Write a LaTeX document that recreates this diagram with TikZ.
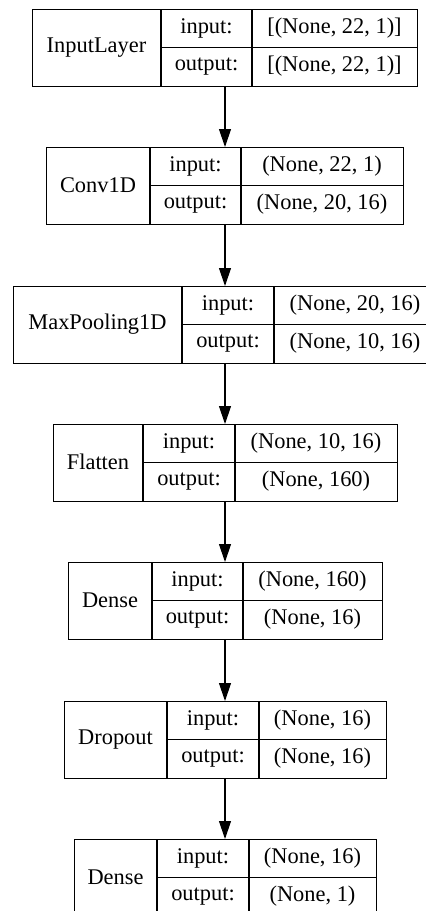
\documentclass[tikz,border=0pt]{standalone}
\usepackage{fontspec}
\setmainfont{Liberation Serif}
\usetikzlibrary{arrows.meta}
\tikzset{
  boxframe/.style={draw, line width=1.2pt, rectangle, inner sep=0pt, anchor=north west},
  cellline/.style={line width=1.2pt},
  celltext/.style={inner sep=0pt, anchor=center, font=\fontsize{22.4}{27}\selectfont},
  arr/.style={line width=1.2pt, -{Triangle[length=18pt,width=12pt]}}
}
% #1 name, #2 left, #3 col1, #4 col2, #5 right, #6 top, #7 label, #8 input, #9 output
\newcommand\layerbox[9]{%
  \pgfmathsetmacro\lbW{#5-#2}%
  \pgfmathsetmacro\lbB{#6+76.5}%
  \pgfmathsetmacro\lbM{#6+38.25}%
  \pgfmathsetmacro\lbRa{#6+19.4}%
  \pgfmathsetmacro\lbRb{#6+57.6}%
  \pgfmathsetmacro\lbXa{(#2+#3)/2}%
  \pgfmathsetmacro\lbXb{(#3+#4)/2}%
  \pgfmathsetmacro\lbXc{(#4+#5)/2}%
  \node[boxframe, minimum width=\lbW pt, minimum height=76.5pt] (#1) at (#2,#6) {};
  \draw[cellline] (#3,#6) -- (#3,\lbB);
  \draw[cellline] (#4,#6) -- (#4,\lbB);
  \draw[cellline] (#3,\lbM) -- (#5,\lbM);
  \node[celltext] (#1-name) at (\lbXa,\lbM) {#7};
  \node[celltext] (#1-inl) at (\lbXb,\lbRa) {input:};
  \node[celltext] (#1-outl) at (\lbXb,\lbRb) {output:};
  \node[celltext] (#1-inv) at (\lbXc,\lbRa) {#8};
  \node[celltext] (#1-outv) at (\lbXc,\lbRb) {#9};
}
\begin{document}
\begin{tikzpicture}[x=1pt,y=-1pt]
\useasboundingbox (0,0) rectangle (426,911);
\coordinate (ax) at (225,0);
\layerbox{L1}{32}{161}{252}{417}{9}{InputLayer}{[(None, 22, 1)]}{[(None, 22, 1)]}
\layerbox{L2}{46}{150}{241}{403}{147}{Conv1D}{(None, 22, 1)}{(None, 20, 16)}
\layerbox{L3}{13}{182}{274}{436}{286}{MaxPooling1D}{(None, 20, 16)}{(None, 10, 16)}
\layerbox{L4}{53}{143}{235}{397}{424}{Flatten}{(None, 10, 16)}{(None, 160)}
\layerbox{L5}{68}{152}{243}{382}{562}{Dense}{(None, 160)}{(None, 16)}
\layerbox{L6}{64}{167}{259}{386}{701}{Dropout}{(None, 16)}{(None, 16)}
\layerbox{L7}{74}{157}{249}{376}{839}{Dense}{(None, 16)}{(None, 1)}
\draw[arr] (L1.south -| ax) -- (L2.north -| ax);
\draw[arr] (L2.south -| ax) -- (L3.north -| ax);
\draw[arr] (L3.south -| ax) -- (L4.north -| ax);
\draw[arr] (L4.south -| ax) -- (L5.north -| ax);
\draw[arr] (L5.south -| ax) -- (L6.north -| ax);
\draw[arr] (L6.south -| ax) -- (L7.north -| ax);
\end{tikzpicture}
\end{document}
